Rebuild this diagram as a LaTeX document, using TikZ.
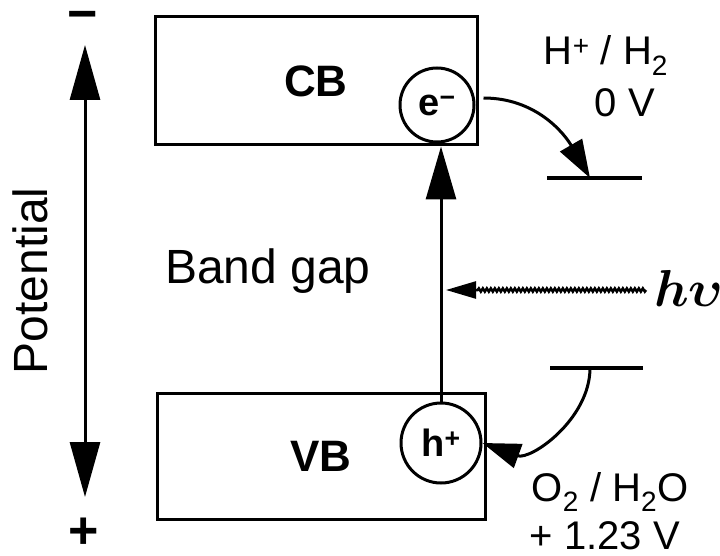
\documentclass[tikz,border=0pt]{standalone}
\usepackage{amsmath}
\usepackage{graphicx}
\usepackage{fontspec}
\setmainfont{Liberation Sans}
\usetikzlibrary{arrows.meta, positioning, calc, decorations.pathmorphing}

\begin{document}
\begin{tikzpicture}[x=1pt, y=1pt,
  band/.style={draw, line width=3pt, rectangle, inner sep=0pt, font=\fontsize{44}{50}\selectfont\bfseries},
  carrier/.style={draw, line width=3pt, circle, inner sep=0pt, font=\fontsize{38}{42}\selectfont\bfseries},
  big/.style={font=\fontsize{48}{54}\selectfont, inner sep=0pt},
  lbl/.style={font=\fontsize{40}{46}\selectfont, inner sep=0pt, anchor=base},
  sign/.style={font=\fontsize{52}{56}\selectfont\bfseries, inner sep=0pt},
  level/.style={line width=4pt},
  arr/.style={line width=3pt, -{Triangle[length=53pt, width=30pt]}},
  carr/.style={line width=3pt, -{Triangle[length=38pt, width=25pt]}},
  wave/.style={line width=2.5pt, decorate, decoration={snake, amplitude=1.6pt, segment length=4pt, post length=30pt},
    -{Triangle[length=30pt, width=17pt]}}
]
\useasboundingbox (0,0) rectangle (720,555);

% Bands
\node[band, minimum width=322pt, minimum height=128pt] (cb) at (316,474) {CB};
\node[band, minimum width=328pt, minimum height=126pt] (vb) at (321,99) {VB};
\node[carrier, minimum size=74pt] (em) at (437,450) {e\textsuperscript{−}};
\node[carrier, minimum size=80pt] (hp) at (441,112) {h\textsuperscript{+}};
\node[big, anchor=base west] (gap) at (165,272) {Band gap};

% Potential axis
\node[sign] (minus) at (83,534) {−};
\node[sign] (plus) at (84,22) {+};
\node[big, rotate=90] (pot) at (30,274) {Potential};
\coordinate (ptop) at (85,510);
\coordinate (pbot) at (85,58);
\draw[line width=3pt, {Triangle[length=55pt, width=30pt]}-{Triangle[length=55pt, width=30pt]}] (ptop) -- (pbot);

% Redox levels
\node[lbl] (hlab) at (606,490) {H\textsuperscript{+} / H\textsubscript{2}};
\node[lbl] (hvolt) at (625,438) {0 V};
\node[lbl] (olab) at (610,54) {O\textsubscript{2} / H\textsubscript{2}O};
\node[lbl] (ovolt) at (605,6) {+ 1.23 V};
\coordinate (hlev) at (590,377);
\coordinate (olev) at (590,187);
\draw[level] ($(hlev)+(-43,0)$) -- ($(hlev)+(52,0)$);
\draw[level] ($(olev)+(-40,0)$) -- ($(olev)+(53,0)$);

% Excitation and light
\draw[arr] (hp.north) -- (hp.north |- cb.south);
\node[inner sep=0pt] (light) at (689,267) {\scalebox{5.2}{$\boldsymbol{h\upsilon}$}};
\coordinate (hit) at (446,265);
\draw[wave] ([xshift=-8pt]light.west |- hit) -- (hit);

% Charge transfer
\draw[carr] ([xshift=8pt, yshift=7pt]em.east) to[out=0, in=120] (hlev);
\draw[carr] (olev) to[out=-90, in=-20] (hp.east);

\end{tikzpicture}
\end{document}
